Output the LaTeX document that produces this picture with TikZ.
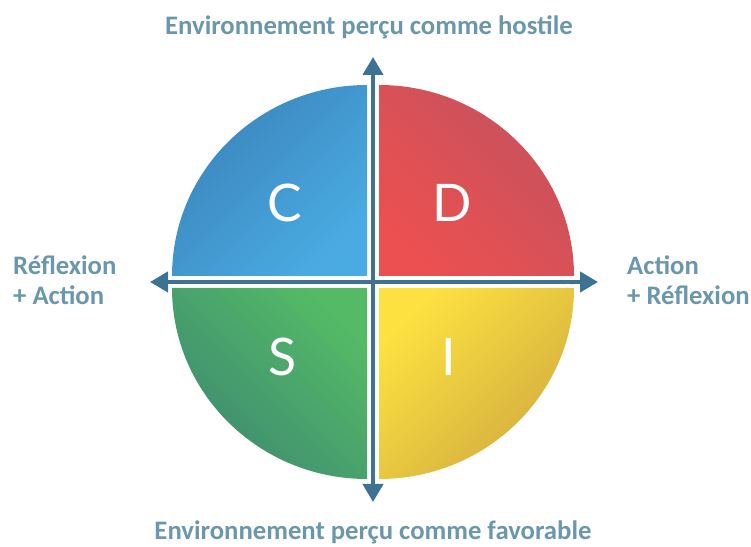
\documentclass[tikz,border=0pt]{standalone}
\usepackage{fontspec}
\setmainfont{Carlito}
\newfontfamily\letterfont{Lato}
\usetikzlibrary{arrows.meta}

\definecolor{axiscol}{HTML}{3D7292}
\definecolor{labelcol}{HTML}{6A97AB}
\definecolor{cdark}{HTML}{3A84BC}
\definecolor{clight}{HTML}{4AABE2}
\definecolor{ddark}{HTML}{C4525E}
\definecolor{dlight}{HTML}{EC5050}
\definecolor{sdark}{HTML}{3D8A72}
\definecolor{slight}{HTML}{54BA66}
\definecolor{idark}{HTML}{D2AC40}
\definecolor{ilight}{HTML}{FDE140}

\tikzset{
  axis/.style={draw=axiscol, line width=4bp, {Triangle[width=20bp,length=18bp]}-{Triangle[width=20bp,length=18bp]}},
  letter/.style={text=white, font=\letterfont\fontsize{52}{52}\selectfont},
  label/.style={text=labelcol, font=\bfseries\fontsize{26.8}{31}\selectfont, inner sep=0pt}
}

\begin{document}
\begin{tikzpicture}[x=1bp,y=1bp]
            \useasboundingbox (0,0) rectangle (751,547);
            % quadrants
            \shade[top color=cdark, bottom color=clight, shading angle=45]
              (367,271) -- (172,271) arc[start angle=180, end angle=90, x radius=195, y radius=191] -- cycle;
            \shade[top color=ddark, bottom color=dlight, shading angle=-45]
              (379,271) -- (379,462) arc[start angle=90, end angle=0, x radius=195, y radius=191] -- cycle;
            \shade[top color=slight, bottom color=sdark, shading angle=-45]
              (367,259) -- (172,259) arc[start angle=180, end angle=270, x radius=195, y radius=191] -- cycle;
            \shade[top color=ilight, bottom color=idark, shading angle=45]
              (379,259) -- (574,259) arc[start angle=0, end angle=-90, x radius=195, y radius=191] -- cycle;
            % axes
            \coordinate (top) at (373,490);
            \coordinate (bottom) at (373,45);
            \coordinate (left) at (150,265);
            \coordinate (right) at (598,265);
            \draw[axis] (bottom) -- (top);
            \draw[axis] (left) -- (right);
            \node[letter] (c) at (285,344) {C};
            \node[letter] (d) at (452,344) {D};
            \node[letter] (s) at (283,190) {S};
            \node[letter] (i) at (449,190) {I};
            \node[label, anchor=base] (hostile) at (369,512) {Environnement perçu comme hostile};
            \node[label, anchor=base] (favorable) at (373,7) {Environnement perçu comme favorable};
            \node[label, anchor=base west, align=left] (reflexion) at (13,242) {Réflexion\\+ Action};
            \node[label, anchor=base west, align=left] (action) at (627,242) {Action\\+ Réflexion};
        \end{tikzpicture}
\end{document}
